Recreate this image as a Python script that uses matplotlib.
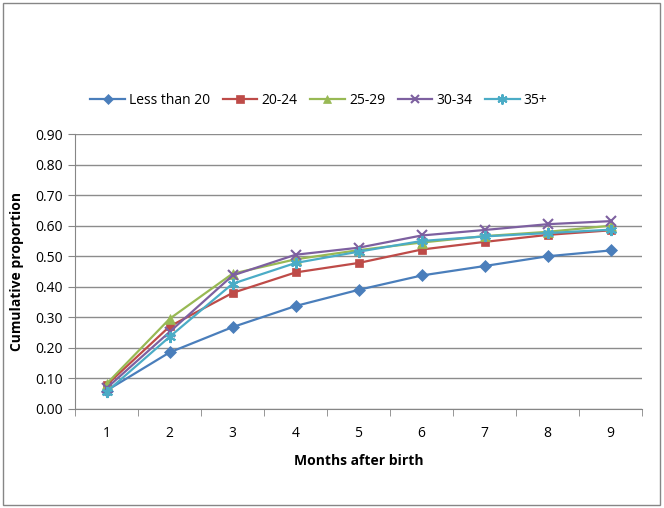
import matplotlib
matplotlib.use("Agg")
import matplotlib.pyplot as plt
from matplotlib.patches import Rectangle

months = [1, 2, 3, 4, 5, 6, 7, 8, 9]
less_than_20 = [0.060, 0.185, 0.268, 0.337, 0.390, 0.437, 0.468, 0.500, 0.519]
age_20_24 = [0.078, 0.270, 0.380, 0.447, 0.478, 0.522, 0.547, 0.570, 0.585]
age_25_29 = [0.082, 0.295, 0.443, 0.490, 0.520, 0.545, 0.566, 0.580, 0.600]
age_30_34 = [0.068, 0.252, 0.437, 0.505, 0.528, 0.568, 0.586, 0.605, 0.615]
age_35_plus = [0.056, 0.236, 0.410, 0.478, 0.515, 0.550, 0.565, 0.576, 0.587]

series = [
    ("Less than 20", less_than_20, "#4A7EBB", "D", 6),
    ("20-24", age_20_24, "#BE4B48", "s", 6),
    ("25-29", age_25_29, "#98B954", "^", 7),
    ("30-34", age_30_34, "#7D60A0", "x", 7),
    ("35+", age_35_plus, "#4BACC6", (6, 2, 0), 8),
]

plt.rcParams["font.family"] = ["Open Sans", "DejaVu Sans"]

fig = plt.figure(figsize=(6.64, 5.08), dpi=100)
ax = fig.add_axes([0.113, 0.195, 0.854, 0.541])

for label, vals, color, marker, ms in series:
    thin = marker in ("D", "s", "^")
    ax.plot(months, vals, color=color, marker=marker, markersize=ms,
            linewidth=1.6, label=label, markeredgewidth=0.5 if thin else 1.5)

ax.set_xlim(0.5, 9.5)
ax.set_ylim(0, 0.9)
ax.set_yticks([i / 10 for i in range(10)])
ax.set_yticklabels([f"{i / 10:.2f}" for i in range(10)], fontsize=10)
ax.set_xticks(months)
ax.set_xticklabels([str(m) for m in months], fontsize=10)
ax.set_xticks([m + 0.5 for m in range(0, 10)], minor=True)
ax.tick_params(axis="x", which="major", length=0, pad=12)
ax.tick_params(axis="x", which="minor", length=5, color="#868686")
ax.tick_params(axis="y", length=5, color="#868686")
ax.grid(axis="y", color="#8c8c8c", linewidth=1)
ax.set_axisbelow(True)
for s in ("top", "right"):
    ax.spines[s].set_visible(False)
for s in ("left", "bottom"):
    ax.spines[s].set_color("#868686")

ax.set_ylabel("Cumulative proportion", fontsize=10, fontweight="bold", labelpad=8)
ax.set_xlabel("Months after birth", fontsize=10, fontweight="bold", labelpad=10)

ax.legend(loc="center", bbox_to_anchor=(0.43, 1.124), ncol=5, frameon=False,
          fontsize=10, handlelength=2.5, columnspacing=0.9, handletextpad=0.3,
          markerscale=0.9)

fig.patches.append(Rectangle((0.004, 0.006), 0.99, 0.988, transform=fig.transFigure,
                             fill=False, edgecolor="#868686", linewidth=1))

fig.savefig("out.png", dpi=100)
